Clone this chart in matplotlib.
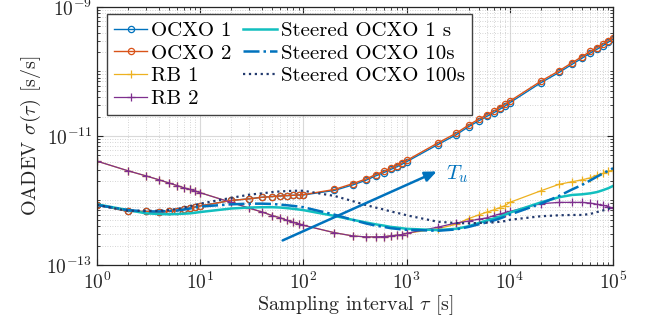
import numpy as np
import matplotlib
matplotlib.use("Agg")
import matplotlib.pyplot as plt
from matplotlib.ticker import FixedLocator, LogLocator, NullFormatter, FixedFormatter

plt.rcParams['font.family'] = ['cmr10', 'DejaVu Serif']
plt.rcParams['mathtext.fontset'] = 'cm'
plt.rcParams['axes.unicode_minus'] = False
plt.rcParams['axes.formatter.use_mathtext'] = True

# ---------------- data (log10 of OADEV) ----------------
tau = [1, 2, 3, 4, 5, 6, 7, 8, 9,
       10, 20, 30, 40, 50, 60, 70, 80, 90,
       100, 200, 300, 400, 500, 600, 700, 800, 900,
       1000, 2000, 3000, 4000, 5000, 6000, 7000, 8000, 9000,
       10000, 20000, 30000, 40000, 50000, 60000, 70000, 80000, 90000,
       100000]

ocxo2_log = [-12.07, -12.17, -12.17, -12.18, -12.17, -12.16, -12.14, -12.12, -12.10,
             -12.085, -12.00, -11.975, -11.95, -11.94, -11.93, -11.925, -11.92, -11.915,
             -11.91, -11.83, -11.74, -11.67, -11.60, -11.55, -11.50, -11.46, -11.42,
             -11.38, -11.11, -10.96, -10.83, -10.74, -10.67, -10.615, -10.56, -10.51,
             -10.46, -10.15, -9.99, -9.865, -9.77, -9.69, -9.63, -9.575, -9.52,
             -9.475]

ocxo1_log = [-12.07, -12.17, -12.17, -12.18, -12.17, -12.16, -12.14, -12.12, -12.10,
             -12.085, -12.00, -11.975, -11.95, -11.94, -11.93, -11.925, -11.92, -11.915,
             -11.915, -11.845, -11.76, -11.69, -11.62, -11.57, -11.52, -11.48, -11.44,
             -11.40, -11.135, -10.985, -10.855, -10.765, -10.695, -10.64, -10.585, -10.535,
             -10.485, -10.175, -10.015, -9.89, -9.795, -9.715, -9.655, -9.60, -9.545,
             -9.50]

rb2_log = [-11.39, -11.54, -11.62, -11.68, -11.73, -11.77, -11.805, -11.83, -11.855,
           -11.88, -12.03, -12.12, -12.18, -12.235, -12.27, -12.31, -12.34, -12.36,
           -12.385, -12.50, -12.55, -12.565, -12.565, -12.56, -12.55, -12.54, -12.53,
           -12.51, -12.415, -12.35, -12.32, -12.29, -12.27, -12.235, -12.21, -12.19,
           -12.17, -12.05, -12.03, -12.03, -12.03, -12.04, -12.06, -12.075, -12.095,
           -12.12]

rb1_log = [-11.39, -11.54, -11.62, -11.68, -11.73, -11.77, -11.805, -11.83, -11.855,
           -11.88, -12.03, -12.12, -12.18, -12.235, -12.27, -12.31, -12.34, -12.36,
           -12.385, -12.50, -12.55, -12.565, -12.565, -12.56, -12.55, -12.54, -12.53,
           -12.51, -12.44, -12.37, -12.28, -12.225, -12.18, -12.147, -12.11, -12.08,
           -12.03, -11.85, -11.75, -11.71, -11.68, -11.65, -11.61, -11.58, -11.55,
           -11.53]

st1_log = [-12.06, -12.15, -12.20, -12.21, -12.215, -12.21, -12.205, -12.20, -12.19,
           -12.18, -12.125, -12.11, -12.105, -12.105, -12.11, -12.12, -12.13, -12.14,
           -12.15, -12.24, -12.30, -12.34, -12.37, -12.39, -12.41, -12.42, -12.43,
           -12.44, -12.46, -12.44, -12.40, -12.35, -12.31, -12.28, -12.25, -12.22,
           -12.19, -12.03, -11.95, -11.915, -11.905, -11.89, -11.87, -11.84, -11.81,
           -11.775]

st10_log = [-12.07, -12.15, -12.17, -12.17, -12.165, -12.155, -12.14, -12.125, -12.11,
            -12.095, -12.06, -12.05, -12.05, -12.055, -12.065, -12.075, -12.085, -12.095,
            -12.105, -12.22, -12.30, -12.355, -12.39, -12.41, -12.43, -12.44, -12.45,
            -12.455, -12.47, -12.45, -12.41, -12.37, -12.34, -12.31, -12.28, -12.25,
            -12.22, -12.05, -11.93, -11.83, -11.76, -11.69, -11.63, -11.58, -11.54,
            -11.50]

st100_log = [-12.07, -12.16, -12.16, -12.16, -12.15, -12.13, -12.11, -12.09, -12.07,
             -12.05, -11.96, -11.91, -11.89, -11.87, -11.86, -11.855, -11.85, -11.85,
             -11.85, -11.93, -12.01, -12.07, -12.11, -12.14, -12.17, -12.19, -12.21,
             -12.23, -12.33, -12.35, -12.355, -12.35, -12.345, -12.34, -12.33, -12.32,
             -12.30, -12.245, -12.23, -12.225, -12.225, -12.21, -12.18, -12.155, -12.13,
             -12.10]

labels = ['OCXO 1', 'OCXO 2', 'RB 1', 'RB 2',
          'Steered OCXO 1 s', 'Steered OCXO 10s', 'Steered OCXO 100s']
xticks = [1e0, 1e1, 1e2, 1e3, 1e4, 1e5]
xticklabels = [r'$10^{0}$', r'$10^{1}$', r'$10^{2}$', r'$10^{3}$', r'$10^{4}$', r'$10^{5}$']
yticks = [1e-13, 1e-11, 1e-9]
yticklabels = [r'$10^{-13}$', r'$10^{-11}$', r'$10^{-9}$']

arrow_start = (63, 10 ** -12.62)
arrow_end = (1960, 10 ** -11.55)

# ---------------- plot ----------------
c_blue = '#0072BD'
c_orange = '#D95319'
c_yellow = '#EDB120'
c_purple = '#7E2F8E'
c_cyan = '#12BFBF'
c_navy = '#233A6E'

fig = plt.figure(figsize=(6.46, 3.32), dpi=100)
ax = fig.add_axes([0.150, 0.202, 0.799, 0.777])

t = np.array(tau)
def v(a):
    return 10.0 ** np.array(a)

ax.plot(t, v(ocxo1_log), '-o', color=c_blue, lw=1.0, ms=4.5, mfc='none', mew=0.9, label=labels[0])
ax.plot(t, v(ocxo2_log), '-o', color=c_orange, lw=1.0, ms=4.5, mfc='none', mew=0.9, label=labels[1])
ax.plot(t, v(rb1_log), '-+', color=c_yellow, lw=0.9, ms=6, mew=0.9, label=labels[2])
ax.plot(t, v(rb2_log), '-+', color=c_purple, lw=0.9, ms=6, mew=0.9, label=labels[3])
ax.plot(t, v(st1_log), '-', color=c_cyan, lw=1.8, label=labels[4])
ax.plot(t, v(st10_log), '-.', color=c_blue, lw=1.8, label=labels[5])
ax.plot(t, v(st100_log), ':', color=c_navy, lw=1.6, label=labels[6])

ax.set_xscale('log')
ax.set_yscale('log')
ax.set_xlim(1, 1e5)
ax.set_ylim(1e-13, 1e-9)

ax.xaxis.set_major_locator(FixedLocator(xticks))
ax.xaxis.set_major_formatter(FixedFormatter(xticklabels))
ax.xaxis.set_minor_locator(LogLocator(base=10, subs=np.arange(2, 10), numticks=50))
ax.xaxis.set_minor_formatter(NullFormatter())
ax.yaxis.set_major_locator(FixedLocator(yticks))
ax.yaxis.set_major_formatter(FixedFormatter(yticklabels))
ax.yaxis.set_minor_locator(LogLocator(base=10, subs=np.arange(1, 10), numticks=50))
ax.yaxis.set_minor_formatter(NullFormatter())

ax.grid(True, which='major', color='0.85', lw=0.8, ls='-')
ax.grid(True, which='minor', color='0.78', lw=0.6, ls=(0, (1, 2)))
ax.set_axisbelow(True)

ax.tick_params(which='both', direction='in', top=True, right=True, labelsize=14, colors='0.15')
ax.tick_params(which='major', length=4, width=0.8)
ax.tick_params(which='minor', length=2.5, width=0.6)
ax.tick_params(axis='x', pad=5)
for s in ax.spines.values():
    s.set_color('0.15')
    s.set_linewidth(0.9)

ax.set_xlabel(r'Sampling interval $\tau$ [s]', fontsize=14.5, color='0.15', labelpad=0)
ax.set_ylabel(r'OADEV $\sigma(\tau)$ [s/s]', fontsize=14.5, color='0.15', labelpad=2)

leg = ax.legend(ncol=2, loc='upper left', bbox_to_anchor=(0.019, 0.973), borderaxespad=0,
                fontsize=15, handlelength=1.6, handletextpad=0.2, columnspacing=0.55,
                labelspacing=0.2, borderpad=0.35, fancybox=False, framealpha=1,
                edgecolor='0.25')
leg.get_frame().set_linewidth(1.0)

ax.annotate('', xy=arrow_end, xytext=arrow_start,
            arrowprops=dict(arrowstyle='-|>,head_length=0.7,head_width=0.3', color=c_blue, lw=1.8,
                            shrinkA=0, shrinkB=0))
ax.text(2400, 10 ** -11.6, r'$T_u$', color=c_blue, fontsize=15, ha='left', va='center')

fig.savefig('out.png', dpi=100)
